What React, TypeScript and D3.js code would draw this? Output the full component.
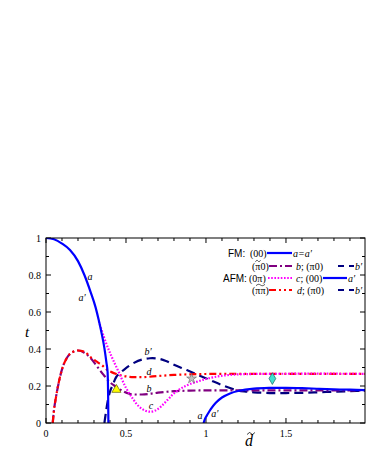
import React from "react";
import * as d3 from "d3";

// FM (00) : a = a'
const aLeftD = [0, 0.05, 0.1, 0.15, 0.2, 0.24, 0.28, 0.31, 0.33, 0.35, 0.365, 0.378, 0.385, 0.389, 0.39];
const aLeftT = [1, 0.993, 0.97, 0.935, 0.875, 0.8, 0.705, 0.625, 0.555, 0.475, 0.405, 0.325, 0.275, 0.1, 0];
const aRightD = [0.985, 0.995, 1.01, 1.03, 1.06, 1.1, 1.15, 1.2, 1.3, 1.4, 1.5, 1.6, 1.7, 1.8, 1.9, 2.0];
const aRightT = [0, 0.025, 0.047, 0.075, 0.108, 0.138, 0.16, 0.173, 0.186, 0.19, 0.19, 0.188, 0.185, 0.182, 0.18, 0.178];
// (pi~ 0) : b
const bD = [0.042, 0.05, 0.0625, 0.08, 0.1, 0.135, 0.17, 0.2, 0.24, 0.28, 0.32, 0.36, 0.4, 0.44, 0.48, 0.52, 0.56, 0.6, 0.65, 0.7, 0.8, 0.9, 1.0, 1.2, 1.5, 2.0];
const bT = [0, 0.07, 0.14, 0.22, 0.29, 0.358, 0.385, 0.392, 0.38, 0.35, 0.305, 0.26, 0.22, 0.195, 0.172, 0.158, 0.154, 0.154, 0.158, 0.164, 0.172, 0.175, 0.176, 0.176, 0.176, 0.176];
// (pi~ pi~) : d
const dD = [0.042, 0.05, 0.0625, 0.08, 0.1, 0.135, 0.17, 0.2, 0.24, 0.28, 0.32, 0.36, 0.385, 0.41, 0.44, 0.5, 0.55, 0.6, 0.7, 0.8, 0.9, 1.0, 1.5, 2.0];
const dT = [0, 0.07, 0.14, 0.22, 0.29, 0.358, 0.385, 0.392, 0.385, 0.355, 0.33, 0.305, 0.286, 0.275, 0.265, 0.252, 0.248, 0.248, 0.254, 0.26, 0.263, 0.265, 0.266, 0.266];
// AFM (0 pi) : c
const cD = [0.33, 0.36, 0.39, 0.42, 0.46, 0.5, 0.54, 0.58, 0.62, 0.65, 0.68, 0.72, 0.76, 0.8, 0.85, 0.9, 0.98, 1.05, 1.15, 1.3, 2.0];
const cT = [0.55, 0.47, 0.4, 0.34, 0.265, 0.19, 0.135, 0.09, 0.067, 0.061, 0.066, 0.09, 0.125, 0.16, 0.19, 0.21, 0.233, 0.248, 0.26, 0.265, 0.266];
// (pi 0) : b'
const bpD = [0.365, 0.375, 0.385, 0.4, 0.417, 0.44, 0.47, 0.5, 0.55, 0.6, 0.65, 0.7, 0.75, 0.8, 0.88, 0.95, 1.025, 1.1, 1.19, 1.25, 1.3, 1.4, 1.5, 1.6, 1.7, 1.8, 1.9, 2.0];
const bpT = [0, 0.06, 0.115, 0.17, 0.205, 0.25, 0.275, 0.297, 0.325, 0.343, 0.35, 0.348, 0.335, 0.315, 0.286, 0.26, 0.232, 0.205, 0.178, 0.17, 0.166, 0.162, 0.162, 0.163, 0.166, 0.169, 0.172, 0.174];

const markerD = [0.44, 0.91, 1.415];
const markerT = [0.18, 0.24, 0.24];

const labelText = ["a", "a\u2032", "b\u2032", "d", "b", "c", "a", "a\u2032"];
const labelD = [0.275, 0.225, 0.6375, 0.644, 0.644, 0.656, 0.9625, 1.056];
const labelT = [0.79, 0.68, 0.384, 0.276, 0.184, 0.092, 0.043, 0.054];

const xMajor = [0, 0.5, 1, 1.5];
const xTickLabels = ["0", "0.5", "1", "1.5"];
const yMajor = [0, 0.2, 0.4, 0.6, 0.8, 1];
const yTickLabels = ["0", "0.2", "0.4", "0.6", "0.8", "1"];

const BLUE = "#0000ff";
const PURPLE = "#800080";
const RED = "#ff0000";
const MAGENTA = "#ff00ff";
const NAVY = "#000080";

const serif = "'Liberation Serif', 'Times New Roman', serif";
const sans = "'Liberation Sans', Arial, sans-serif";

const zip = (xs: number[], ys: number[]) => xs.map((x, i) => [x, ys[i]] as [number, number]);

// small wavy tilde drawn as a path
const tilde = (cx: number, cy: number, w: number, h: number) => {
  const l = cx - w / 2;
  return `M${l},${cy + h / 2} C${l + w * 0.25},${cy - h} ${l + w * 0.4},${cy - h * 0.4} ${cx},${cy} S${l + w * 0.75},${cy + h} ${l + w},${cy - h / 2}`;
};

export default function App() {
  const x = d3.scaleLinear().domain([0, 1.994]).range([46, 365]);
  const y = d3.scaleLinear().domain([0, 1]).range([423, 238]);
  const line = d3
    .line<[number, number]>()
    .x((d) => x(d[0]))
    .y((d) => y(d[1]))
    .curve(d3.curveMonotoneX);
  const lineN = d3
    .line<[number, number]>()
    .x((d) => x(d[0]))
    .y((d) => y(d[1]))
    .curve(d3.curveCatmullRom);

  const minorX = d3.range(0, 2.0, 0.1);
  const minorY = d3.range(0, 1.001, 0.1);

  const series = [
    { p: lineN(zip(bpD, bpT)), c: NAVY, dash: "9,5" },
    { p: line(zip(bD, bT)), c: PURPLE, dash: "8,3,2,3" },
    { p: line(zip(dD, dT)), c: RED, dash: "7,3,2,3,2,3" },
    { p: lineN(zip(cD, cT)), c: MAGENTA, dash: "1.6,1.6" },
    { p: line(zip(aLeftD, aLeftT)), c: BLUE, dash: "" },
    { p: lineN(zip(aRightD, aRightT)), c: BLUE, dash: "" },
  ];

  const star = d3.symbol(d3.symbolStar, 30)() as string;
  const tri = d3.symbol(d3.symbolTriangle, 36)() as string;
  const dia = d3.symbol(d3.symbolDiamond, 40)() as string;

  const legendRows = [253, 266, 278, 290];
  const legLine = (x1: number, x2: number, yy: number, c: string, dash: string) => (
    <line x1={x1} x2={x2} y1={yy} y2={yy} stroke={c} strokeWidth={2.2} strokeDasharray={dash} />
  );
  const lt = (tx: number, yy: number, s: string, italic = false) => (
    <text x={tx} y={yy + 3.5} fontFamily={serif} fontSize={10} fontStyle={italic ? "italic" : "normal"}>
      {s}
    </text>
  );

  return (
    <svg width={366} height={473} style={{ position: "absolute", left: 0, top: 0, background: "#fff" }}>
      <defs>
        <clipPath id="plot">
          <rect x={46} y={238} width={319} height={185} />
        </clipPath>
      </defs>
      {/* ticks */}
      <g stroke="#000" strokeWidth={1}>
        {minorX.map((v, i) => {
          const major = xMajor.some((m) => Math.abs(m - v) < 1e-6);
          const L = major ? 5 : 3;
          return (
            <g key={"xt" + i}>
              <line x1={x(v)} x2={x(v)} y1={423} y2={423 - L} />
              <line x1={x(v)} x2={x(v)} y1={238} y2={238 + L} />
            </g>
          );
        })}
        {minorY.map((v, i) => {
          const major = Math.round(v * 10) % 2 === 0;
          const L = major ? 5 : 3;
          return (
            <g key={"yt" + i}>
              <line x1={46} x2={46 + L} y1={y(v)} y2={y(v)} />
              <line x1={365} x2={365 - L} y1={y(v)} y2={y(v)} />
            </g>
          );
        })}
      </g>
      <g clipPath="url(#plot)" fill="none" strokeLinecap="butt">
        {series.map((s, i) => (
          <path key={i} d={s.p || ""} stroke={s.c} strokeWidth={2.2} strokeDasharray={s.dash} />
        ))}
      </g>
      {/* markers */}
      <path d={tri} transform={`translate(${x(markerD[0])},${y(markerT[0])})`} fill="#ffff00" stroke="#606000" strokeWidth={0.7} />
      <path d={star} transform={`translate(${x(markerD[1])},${y(markerT[1])})`} fill="#c0c0c0" stroke="#606060" strokeWidth={0.6} />
      <path d={dia} transform={`translate(${x(markerD[2])},${y(markerT[2])})`} fill="#40e0d0" stroke="#206060" strokeWidth={0.7} />
      {/* frame */}
      <rect x={46} y={238} width={319} height={185} fill="none" stroke="#000" strokeWidth={1} />
      {/* curve labels */}
      {labelText.map((s, i) => (
        <text key={"l" + i} x={x(labelD[i])} y={y(labelT[i]) + 3.5} fontFamily={serif} fontStyle="italic" fontSize={10} textAnchor="middle">
          {s}
        </text>
      ))}
      {/* tick labels */}
      {xMajor.map((v, i) => (
        <text key={"xl" + i} x={x(v)} y={437} fontFamily={serif} fontSize={10} textAnchor="middle">
          {xTickLabels[i]}
        </text>
      ))}
      {yMajor.map((v, i) => (
        <text key={"yl" + i} x={41} y={y(v) + 3.5} fontFamily={serif} fontSize={10} textAnchor="end">
          {yTickLabels[i]}
        </text>
      ))}
      {/* axis titles */}
      <text x={27} y={337} fontFamily={serif} fontStyle="italic" fontSize={15} textAnchor="middle">t</text>
      <text x={249} y={446} fontFamily={serif} fontStyle="italic" fontSize={16} textAnchor="middle">d</text>
      <path d={tilde(251, 433.5, 7, 2)} fill="none" stroke="#000" strokeWidth={0.9} />
      {/* legend */}
      <g>
        <text x={228} y={legendRows[0] + 3.5} fontFamily={sans} fontSize={10}>FM:</text>
        {lt(250, legendRows[0], "(00)")}
        {legLine(267, 292, legendRows[0], BLUE, "")}
        {lt(293, legendRows[0], "a=a\u2032", true)}

        {lt(252, legendRows[1], "(π0)")}
        <path d={tilde(258, legendRows[1] - 5, 5, 1.5)} fill="none" stroke="#000" strokeWidth={0.7} />
        {legLine(269, 292, legendRows[1], PURPLE, "8,3,2,3")}
        <text x={296} y={legendRows[1] + 3.5} fontFamily={serif} fontSize={10}>
          <tspan fontStyle="italic">b</tspan>; (π0)
        </text>
        {legLine(338, 354, legendRows[1], NAVY, "6,5")}
        {lt(355, legendRows[1], "b\u2032", true)}

        <text x={223} y={legendRows[2] + 3.5} fontFamily={sans} fontSize={10}>AFM:</text>
        {lt(249, legendRows[2], "(0π)")}
        {legLine(268, 292, legendRows[2], MAGENTA, "1.6,1.6")}
        <text x={296} y={legendRows[2] + 3.5} fontFamily={serif} fontSize={10}>
          <tspan fontStyle="italic">c</tspan>;  (00)
        </text>
        {legLine(323, 347, legendRows[2], BLUE, "")}
        {lt(348, legendRows[2], "a\u2032", true)}

        {lt(252, legendRows[3], "(ππ)")}
        <path d={tilde(260.5, legendRows[3] - 5, 9, 1.5)} fill="none" stroke="#000" strokeWidth={0.7} />
        {legLine(269, 292, legendRows[3], RED, "7,3,2,3,2,3")}
        <text x={297} y={legendRows[3] + 3.5} fontFamily={serif} fontSize={10}>
          <tspan fontStyle="italic">d</tspan>;  (π0)
        </text>
        {legLine(338, 354, legendRows[3], NAVY, "6,5")}
        {lt(355, legendRows[3], "b\u2032", true)}
      </g>
    </svg>
  );
}
